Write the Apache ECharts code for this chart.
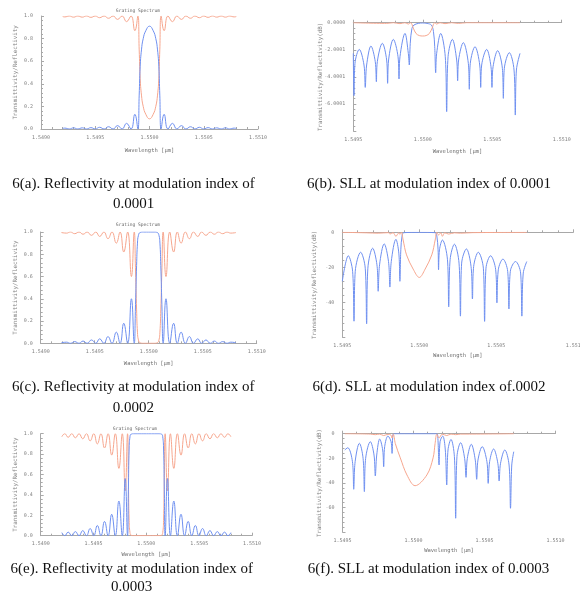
<!DOCTYPE html>
<html><head><meta charset="utf-8">
<script src="https://cdn.jsdelivr.net/npm/echarts@6/dist/echarts.min.js"></script>
<style>html,body{margin:0;padding:0;background:#fff}#c{width:580px;height:598px}</style>
</head><body><div id="c"></div>
<script>
// ---------- tick labels ----------
const xValsLin = [1.5490, 1.5495, 1.5500, 1.5505, 1.5510];
const xTextLin = ['1.5490', '1.5495', '1.5500', '1.5505', '1.5510'];
const xValsDb = [1.5495, 1.5500, 1.5505, 1.5510];
const xTextB = ['1.5495', '1.5500', '1.5505', '1.5510'];
const xTextD = ['1.5495', '1.5500', '1.5505', '1.551'];
const xTextF = ['1.5495', '1.5500', '1.5505', '1.5510'];
const yValsLin = [0, 0.2, 0.4, 0.6, 0.8, 1.0];
const yTextLin = ['0.0', '0.2', '0.4', '0.6', '0.8', '1.0'];
const yValsB = [0, -2, -4, -6];
const yTextB = ['0.0000', '-2.0001', '-4.0001', '-6.0001'];
const yValsD = [0, -20, -40];
const yTextD = ['0', '-20', '-40'];
const yValsF = [0, -20, -40, -60];
const yTextF = ['0', '-20', '-40', '-60'];

const captions = [
  ['6(a). Reflectivity at modulation index of', '0.0001'],
  ['6(b). SLL at modulation index of 0.0001'],
  ['6(c). Reflectivity at modulation index of', '0.0002'],
  ['6(d). SLL at modulation index of.0002'],
  ['6(e). Reflectivity at modulation index of', '0.0003'],
  ['6(f). SLL at modulation index of 0.0003']
];

// ---------- panel (a): modulation 0.0001, linear ----------
const aLam = [1.549200,1.549220,1.549260,1.549300,1.549340,1.549380,1.549420,1.549460,1.549500,1.549540,1.549582,1.549622,1.549665,1.549705,1.549748,1.549788,1.549830,1.549865,1.549893,
  1.549905,1.549914,1.549926,1.549942,1.549966,1.550000,1.550034,1.550058,1.550074,1.550086,1.550095,
  1.550107,1.550135,1.550170,1.550212,1.550252,1.550295,1.550335,1.550378,1.550418,1.550460,1.550500,1.550540,1.550580,1.550620,1.550660,1.550700,1.550740,1.550780,1.550800];
const aRefl = [0.005,0.008,0,0.01,0,0.01,0,0.012,0,0.015,0,0.02,0,0.03,0,0.05,0,0.13,0,
  0.30,0.55,0.70,0.80,0.87,0.91,0.87,0.80,0.70,0.55,0.30,
  0,0.13,0,0.05,0,0.03,0,0.02,0,0.015,0,0.012,0,0.01,0,0.01,0,0.008,0.005];
const aTrans = [0.995,0.992,1,0.99,1,0.99,1,0.988,1,0.985,1,0.98,1,0.97,1,0.95,1,0.87,1,
  0.70,0.45,0.30,0.20,0.13,0.09,0.13,0.20,0.30,0.45,0.70,
  1,0.87,1,0.95,1,0.97,1,0.98,1,0.985,1,0.988,1,0.99,1,0.99,1,0.992,0.995];

// ---------- panel (c): modulation 0.0002, linear ----------
const cLam = [1.549192,1.549240,1.549275,1.549315,1.549355,1.549392,1.549430,1.549470,1.549510,1.549546,1.549585,1.549623,1.549660,1.549700,1.549735,1.549769,1.549805,1.549840,1.549866,
  1.549878,1.549888,1.549896,1.549905,1.549920,1.549950,1.550050,1.550080,1.550095,1.550104,1.550112,1.550122,
  1.550134,1.550160,1.550195,1.550231,1.550265,1.550300,1.550340,1.550377,1.550415,1.550454,1.550490,1.550530,1.550570,1.550608,1.550645,1.550685,1.550725,1.550760,1.550808];
const cRefl = [0.005,0.01,0,0.015,0,0.02,0,0.03,0,0.04,0,0.06,0,0.10,0,0.18,0,0.40,0,
  0.35,0.70,0.90,0.97,0.995,1.0,1.0,0.995,0.97,0.90,0.70,0.35,
  0,0.40,0,0.18,0,0.10,0,0.06,0,0.04,0,0.03,0,0.02,0,0.015,0,0.01,0.005];
const cTrans = [0.995,0.99,1,0.985,1,0.98,1,0.97,1,0.96,1,0.94,1,0.90,1,0.82,1,0.60,1,
  0.65,0.30,0.10,0.03,0.005,0,0,0.005,0.03,0.10,0.30,0.65,
  1,0.60,1,0.82,1,0.90,1,0.94,1,0.96,1,0.97,1,0.98,1,0.985,1,0.99,0.995];

// ---------- panel (e): modulation 0.0003, linear ----------
const eLam = [1.549200,1.549228,1.549260,1.549294,1.549328,1.549363,1.549398,1.549433,1.549468,1.549502,1.549536,1.549570,1.549604,1.549638,1.549672,1.549706,1.549740,1.549772,1.549800,1.549822,1.549830,1.549837,1.549845,1.549855,1.549880,
  1.550120,1.550145,1.550155,1.550163,1.550170,1.550178,1.550200,1.550228,1.550260,1.550294,1.550328,1.550362,1.550396,1.550430,1.550464,1.550498,1.550532,1.550567,1.550602,1.550637,1.550672,1.550706,1.550740,1.550772,1.550800];
const eRefl = [0.03,0,0.035,0,0.04,0,0.05,0,0.07,0,0.10,0,0.14,0,0.21,0,0.34,0,0.56,0,0.45,0.85,0.97,0.995,1.0,
  1.0,0.995,0.97,0.85,0.45,0,0.56,0,0.34,0,0.21,0,0.14,0,0.10,0,0.07,0,0.05,0,0.04,0,0.035,0,0.03];
const eTrans = [0.97,1,0.965,1,0.96,1,0.95,1,0.93,1,0.90,1,0.86,1,0.79,1,0.66,1,0.44,1,0.55,0.15,0.03,0.005,0,
  0,0.005,0.03,0.15,0.55,1,0.44,1,0.66,1,0.79,1,0.86,1,0.90,1,0.93,1,0.95,1,0.96,1,0.965,1,0.97];

// ---------- panel (b): modulation 0.0001, dB ----------
const bLamR = [1.549500,1.549505,1.549512,1.549543,1.549577,1.549586,1.549596,1.549627,1.549658,1.549666,1.549673,1.549709,1.549740,1.549747,1.549754,1.549788,1.549822,1.549829,1.549836,1.549872,1.549896,1.549903,1.549910,1.549922,1.549937,1.549968,
  1.550000,1.550031,1.550062,1.550077,1.550086,1.550093,1.550100,1.550129,1.550162,1.550172,1.550182,1.550213,1.550244,1.550251,1.550258,1.550292,1.550328,1.550335,1.550342,1.550376,1.550410,1.550417,1.550424,1.550460,1.550491,1.550498,1.550506,1.550539,1.550573,1.550580,1.550587,1.550623,1.550657,1.550666,1.550674,1.550700];
const bRefl = [-2.26,-5.38,-3.0,-1.97,-3.12,-4.77,-3.12,-1.72,-2.87,-4.35,-2.87,-1.52,-2.75,-4.47,-2.75,-1.23,-2.51,-4.15,-2.51,-0.79,-2.26,-3.12,-1.52,-0.42,-0.17,-0.05,
  -0.02,-0.05,-0.17,-0.66,-1.77,-3.69,-2.26,-0.79,-2.51,-6.56,-2.51,-1.23,-2.75,-4.28,-2.75,-1.47,-3.0,-4.91,-3.0,-1.77,-3.12,-4.77,-3.12,-1.97,-3.24,-4.77,-3.24,-2.06,-3.37,-5.58,-3.37,-2.21,-3.49,-6.81,-3.49,-2.26];
const bLamT = [1.549500,1.549740,1.549788,1.549836,1.549872,1.549896,1.549913,1.549932,1.549951,1.549975,
  1.550000,1.550024,1.550048,1.550067,1.550086,1.550100,1.550124,1.550160,1.550208,1.550256,1.550316,1.550700];
const bTrans = [0,-0.05,0,-0.07,0,-0.1,0,-0.4,-0.79,-0.95,
  -0.98,-0.95,-0.79,-0.4,0,-0.1,0,-0.07,0,-0.05,0,0];

// ---------- panel (d): modulation 0.0002, dB ----------
const dLamR = [1.549500,1.549539,1.549567,1.549576,1.549584,1.549619,1.549649,1.549658,1.549666,1.549697,1.549725,1.549733,1.549742,1.549772,1.549800,1.549809,1.549818,1.549848,1.549867,1.549874,1.549880,1.549889,1.549900,
  1.550000,
  1.550103,1.550113,1.550122,1.550125,1.550131,1.550150,1.550183,1.550191,1.550200,1.550228,1.550258,1.550267,1.550275,1.550306,1.550336,1.550345,1.550353,1.550383,1.550416,1.550424,1.550433,1.550463,1.550496,1.550504,1.550513,1.550543,1.550574,1.550582,1.550591,1.550625,1.550658,1.550666,1.550675,1.550698];
const dRefl = [-28,-13.4,-22.3,-50.8,-22.3,-11.4,-20.5,-52.3,-20.5,-9.1,-18.6,-33.7,-18.6,-6.6,-16.7,-31.3,-16.7,-4.0,-11.9,-28.0,-10.0,-1.5,-0.2,
  0,
  -0.2,-1.5,-10.0,-21.4,-10.0,-4.4,-15.7,-42.6,-15.7,-6.8,-17.6,-47.9,-17.6,-9.5,-19.5,-38.1,-19.5,-11.4,-20.5,-50.9,-20.5,-13.4,-21.4,-40.3,-21.4,-15.3,-22.3,-43.8,-22.3,-16.7,-23.3,-47.9,-23.3,-16.7];
const dLamT = [1.549500,1.549658,1.549733,1.549800,1.549809,1.549830,1.549848,1.549867,1.549874,1.549884,1.549895,1.549917,1.549960,
  1.550000,
  1.550038,1.550081,1.550103,1.550113,1.550125,1.550140,1.550150,1.550165,1.550191,1.550228,1.550267,1.550345,1.550698];
const dTrans = [0,-0.3,-0.5,-0.2,-1.0,-0.2,-2.3,-0.3,-1.2,0,-4.4,-12.9,-21,
  -25.8,
  -21,-12.9,-4.4,0,-1.5,-0.3,-2.3,-0.3,-1.0,-0.3,-0.5,-0.2,0];

// ---------- panel (f): modulation 0.0003, dB ----------
const fLamR = [1.549516,1.549537,1.549570,1.549579,1.549589,1.549619,1.549645,1.549654,1.549663,1.549696,1.549722,1.549731,1.549741,1.549762,1.549783,1.549790,1.549797,1.549820,1.549842,1.549849,1.549855,1.549865,
  1.550010,1.550164,1.550171,1.550180,1.550187,1.550206,1.550224,1.550234,1.550243,1.550264,1.550288,1.550297,1.550306,1.550332,1.550360,1.550370,1.550379,1.550407,1.550435,1.550445,1.550454,1.550484,1.550517,1.550526,1.550536,1.550564,1.550594,1.550603,1.550613,1.550643,1.550673,1.550683,1.550692,1.550706];
const fRefl = [-13.2,-11.4,-22.7,-45.1,-22.7,-7.8,-20,-47,-20,-6.5,-17.3,-34.3,-17.3,-4.3,-13.2,-26.8,-10.5,-1.9,-6.5,-16,-0.8,0,
  0,0,-2.4,-25.4,-6.5,-1.9,-13.2,-41.6,-13.2,-4.6,-18.6,-68.6,-18.6,-7.3,-20,-35.4,-20,-8.6,-21.4,-37,-21.4,-10.5,-22.7,-40.3,-22.7,-12.4,-24,-38.4,-24,-13.2,-25.4,-60.5,-25.4,-14.6];
const fLamT = [1.549516,1.549696,1.549731,1.549762,1.549790,1.549820,1.549840,1.549849,1.549858,1.549872,1.549907,1.549954,
  1.550011,1.550094,1.550138,1.550152,1.550164,1.550180,1.550195,1.550206,1.550234,1.550264,1.550297,1.550332,1.550370,1.550706];
const fTrans = [0,-0.3,-0.8,-0.3,-1.5,-0.5,-1.0,-3.5,-0.5,-8,-19.6,-33.5,
  -42.2,-33.5,-19.6,-8,-0.5,-3.5,-1.0,-0.5,-1.5,-0.3,-0.8,-0.3,-0.3,0];

// ---------- chart ----------
const BLUE = '#6f90f0', RED = '#f6a68e', AXIS = '#a8a8a8', TXT = '#808080';
const MONO = '"DejaVu Sans Mono", monospace';

function pairs(xs, ys) { return xs.map((x, i) => [x, ys[i]]); }
function lookup(vals, texts) {
  return v => { const i = vals.findIndex(t => Math.abs(t - v) < 1e-7); return i < 0 ? '' : texts[i]; };
}

const panels = [
  {grid:{left:41, top:16, width:217, height:113}, xmin:1.549, xVals:xValsLin, xText:xTextLin, ymin:0, ymax:1, yint:0.2, yVals:yValsLin, yText:yTextLin,
   yname:'Transmittivity/Reflectivity', ygap:23, xgap:19, series:[[aLam,aTrans,RED],[aLam,aRefl,BLUE]], sm:0.5},
  {grid:{left:353.3, top:22.7, width:208.4, height:108.5}, xmin:1.5495, xVals:xValsDb, xText:xTextB, ymin:-8, ymax:0, yint:2, yVals:yValsB, yText:yTextB,
   yname:'Transmittivity/Reflectivity(dB)', ygap:30, xgap:17, series:[[bLamR,bRefl,BLUE],[bLamT,bTrans,RED]], sm:0.35},
  {grid:{left:40.7, top:232, width:216, height:111.3}, xmin:1.549, xVals:xValsLin, xText:xTextLin, ymin:0, ymax:1, yint:0.2, yVals:yValsLin, yText:yTextLin,
   yname:'Transmittivity/Reflectivity', ygap:22.5, xgap:17, series:[[cLam,cTrans,RED],[cLam,cRefl,BLUE]], sm:0.5},
  {grid:{left:342.3, top:232.3, width:231, height:105}, xmin:1.5495, xVals:xValsDb, xText:xTextD, ymin:-60, ymax:0, yint:20, yVals:yValsD, yText:yTextD,
   yname:'Transmittivity/Reflectivity(dB)', ygap:25, xgap:15.5, series:[[dLamR,dRefl,BLUE],[dLamT,dTrans,RED]], sm:0.35},
  {grid:{left:40.7, top:433.7, width:211.3, height:102}, xmin:1.549, xVals:xValsLin, xText:xTextLin, ymin:0, ymax:1, yint:0.2, yVals:yValsLin, yText:yTextLin,
   yname:'Transmittivity/Reflectivity', ygap:22.5, xgap:15.5, series:[[eLam,eTrans,RED],[eLam,eRefl,BLUE]], sm:0.5},
  {grid:{left:342.5, top:433.7, width:213, height:98.6}, xmin:1.5495, xVals:xValsDb, xText:xTextF, ymin:-80, ymax:0, yint:20, yVals:yValsF, yText:yTextF,
   yname:'Transmittivity/Reflectivity(dB)', ygap:20, xgap:15.5, series:[[fLamR,fRefl,BLUE],[fLamT,fTrans,RED]], sm:0.35}
];

const grid = [], xAxis = [], yAxis = [], series = [];
panels.forEach((p, k) => {
  grid.push(Object.assign({outerBoundsMode:'none', containLabel:false}, p.grid));
  xAxis.push({
    type:'value', gridIndex:k, min:p.xmin, max:1.551, interval:0.0005,
    name:'Wavelength [µm]', nameLocation:'middle', nameGap:p.xgap, nameMoveOverlap:false,
    nameTextStyle:{fontFamily:MONO, fontSize:5.5, color:'#707070'},
    axisLine:{lineStyle:{color:AXIS, width:1}},
    axisTick:{inside:true, length:3, lineStyle:{color:AXIS}},
    minorTick:{show:true, splitNumber:5, length:2, lineStyle:{color:AXIS}},
    splitLine:{show:false},
    axisLabel:{fontFamily:MONO, fontSize:5, color:TXT, margin:6, formatter:lookup(p.xVals, p.xText), showMinLabel:true, showMaxLabel:true}
  });
  yAxis.push({
    type:'value', gridIndex:k, min:p.ymin, max:p.ymax, interval:p.yint,
    name:p.yname, nameLocation:'middle', nameGap:p.ygap, nameMoveOverlap:false,
    nameTextStyle:{fontFamily:MONO, fontSize:5.8, color:'#808080'},
    axisLine:{show:true, lineStyle:{color:AXIS, width:1}},
    axisTick:{show:true, inside:true, length:3, lineStyle:{color:AXIS}},
    minorTick:{show:true, splitNumber:5, length:2, lineStyle:{color:AXIS}},
    splitLine:{show:false},
    axisLabel:{fontFamily:MONO, fontSize:5, color:TXT, margin:8, formatter:lookup(p.yVals, p.yText)}
  });
  p.series.forEach(s => {
    series.push({
      type:'line', xAxisIndex:k, yAxisIndex:k, data:pairs(s[0], s[1]),
      showSymbol:false, symbol:'none', smooth:p.sm, silent:true, animation:false,
      lineStyle:{color:s[2], width:1}
    });
  });
});

const graphic = [];
[[138, 11], [138, 225], [135, 428.7]].forEach(pt => {
  graphic.push({type:'text', x:pt[0], y:pt[1], silent:true,
    style:{text:'Grating Spectrum', font:'4.6px ' + MONO, fill:'#666', textAlign:'center', textVerticalAlign:'middle'}});
});
const capPos = [[133.5, 184.5, 204], [429, 184], [133.3, 387.5, 408.5], [429, 387.5], [131.7, 569, 587.5], [428.5, 569]];
captions.forEach((lines, i) => {
  lines.forEach((t, j) => {
    graphic.push({type:'text', x:capPos[i][0], y:capPos[i][1 + j], silent:true,
      style:{text:t, font:'15px "Liberation Serif", "Times New Roman", serif', fill:'#111', textAlign:'center', textVerticalAlign:'middle'}});
  });
});

const chart = echarts.init(document.getElementById('c'), null, {renderer:'canvas', width:580, height:598});
chart.setOption({animation:false, backgroundColor:'#fff', grid, xAxis, yAxis, series, graphic});
</script>
</body></html>
